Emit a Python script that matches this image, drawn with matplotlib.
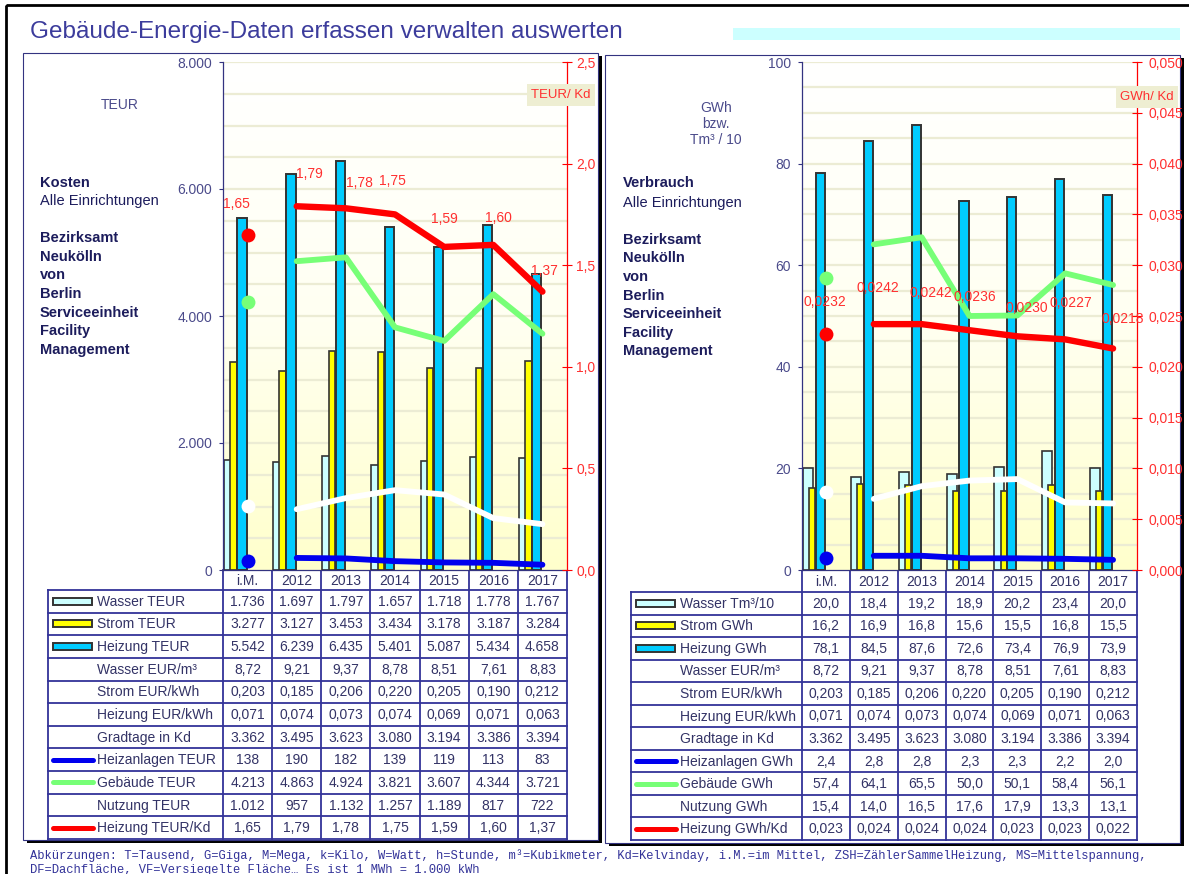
import matplotlib
matplotlib.use('Agg')
import matplotlib.pyplot as plt
import numpy as np
from matplotlib.patches import Rectangle
from matplotlib.colors import LinearSegmentedColormap

plt.rcParams['font.family'] = ['Liberation Sans', 'DejaVu Sans']

W, H = 1189, 874

categories = ['i.M.', '2012', '2013', '2014', '2015', '2016', '2017']

# Kosten in TEUR
wasser_teur = [1736, 1697, 1797, 1657, 1718, 1778, 1767]
strom_teur = [3277, 3127, 3453, 3434, 3178, 3187, 3284]
heizung_teur = [5542, 6239, 6435, 5401, 5087, 5434, 4658]
heizanlagen_teur = [138, 190, 182, 139, 119, 113, 83]
gebaeude_teur = [4213, 4863, 4924, 3821, 3607, 4344, 3721]
nutzung_teur = [1012, 957, 1132, 1257, 1189, 817, 722]
heizung_teur_kd = [1.65, 1.79, 1.78, 1.75, 1.59, 1.60, 1.37]

# Verbrauch in GWh bzw. Tm3/10
wasser_tm3 = [20.0, 18.4, 19.2, 18.9, 20.2, 23.4, 20.0]
strom_gwh = [16.2, 16.9, 16.8, 15.6, 15.5, 16.8, 15.5]
heizung_gwh = [78.1, 84.5, 87.6, 72.6, 73.4, 76.9, 73.9]
heizanlagen_gwh = [2.4, 2.8, 2.8, 2.3, 2.3, 2.2, 2.0]
gebaeude_gwh = [57.4, 64.1, 65.5, 50.0, 50.1, 58.4, 56.1]
nutzung_gwh = [15.4, 14.0, 16.5, 17.6, 17.9, 13.3, 13.1]
heizung_gwh_kd = [0.0232, 0.0242, 0.0242, 0.0236, 0.0230, 0.0227, 0.0218]

# Preise und Gradtage
wasser_eur_m3 = [8.72, 9.21, 9.37, 8.78, 8.51, 7.61, 8.83]
strom_eur_kwh = [0.203, 0.185, 0.206, 0.220, 0.205, 0.190, 0.212]
heizung_eur_kwh = [0.071, 0.074, 0.073, 0.074, 0.069, 0.071, 0.063]
gradtage = [3362, 3495, 3623, 3080, 3194, 3386, 3394]

# colours
C_WASSER = '#CCFFFF'
C_STROM = '#FFFF00'
C_HEIZ = '#00CCFF'
C_BLUE = '#0000EE'
C_GREEN = '#77FF77'
C_RED = '#FF0000'
C_RED_TXT = '#FF3030'
C_GRID = '#ECECD4'
C_AXIS = '#333380'
C_TICK = '#4B4B8B'
C_TABLE = '#333399'
C_CELL = '#333366'
C_SIDE = '#1C1C5C'


def de(v, nd=0):
    """German number format: 1.234,56"""
    s = f"{v:,.{nd}f}"
    return s.replace(',', 'X').replace('.', ',').replace('X', '.')


fig = plt.figure(figsize=(W / 100, H / 100), dpi=100)
bg = fig.add_axes([0, 0, 1, 1])
bg.set_xlim(0, W)
bg.set_ylim(H, 0)
bg.axis('off')


def px_axes(x0, y0, x1, y1):
    return fig.add_axes([x0 / W, 1 - y1 / H, (x1 - x0) / W, (y1 - y0) / H])


# ---------------------------------------------------------------- frame / title
bg.add_patch(Rectangle((6, 5), 1200, 900, fill=False, ec='black', lw=2, zorder=5))
bg.add_patch(Rectangle((733, 28), 447, 12, fc='#CCFFFF', ec='none', zorder=1))
bg.text(30, 38, 'Gebäude-Energie-Daten erfassen verwalten auswerten',
        fontsize=17.5, color='#3C3C9C', va='baseline', ha='left')

for (x0, y0, x1, y1) in [(23, 53, 598, 840), (605, 55, 1180, 843)]:
    bg.add_patch(Rectangle((x0 + 4, y0 + 3), x1 - x0, y1 - y0, fc='black', ec='none', zorder=1))
    bg.add_patch(Rectangle((x0, y0), x1 - x0, y1 - y0, fc='white', ec=C_AXIS, lw=0.8, zorder=2))

foot1 = ('Abkürzungen: T=Tausend, G=Giga, M=Mega, k=Kilo, W=Watt, h=Stunde, m³=Kubikmeter, '
         'Kd=Kelvinday, i.M.=im Mittel, ZSH=ZählerSammelHeizung, MS=Mittelspannung,')
foot2 = 'DF=Dachfläche, VF=Versiegelte Fläche… Es ist 1 MWh = 1.000 kWh'
for y, s in [(856, foot1), (870, foot2)]:
    bg.text(30, y, s, fontsize=8.7, color=C_TABLE, va='center', ha='left',
            family=['Liberation Mono', 'DejaVu Sans Mono'])

# side texts
side_lines = ['Bezirksamt', 'Neukölln', 'von', 'Berlin', 'Serviceeinheit', 'Facility', 'Management']
bg.text(120, 105, 'TEUR', fontsize=10, color=C_TICK, ha='center', va='center')
bg.text(40, 183, 'Kosten', fontsize=10.5, fontweight='bold', color=C_SIDE, va='center')
bg.text(40, 201, 'Alle Einrichtungen', fontsize=10.5, color=C_SIDE, va='center')
for i, s in enumerate(side_lines):
    bg.text(40, 238 + i * 18.7, s, fontsize=10.5, fontweight='bold', color=C_SIDE, va='center')

for y, s in [(108, 'GWh'), (124, 'bzw.'), (140, 'Tm³ / 10')]:
    bg.text(716, y, s, fontsize=10, color=C_TICK, ha='center', va='center')
bg.text(623, 183, 'Verbrauch', fontsize=10.5, fontweight='bold', color=C_SIDE, va='center')
bg.text(623, 203, 'Alle Einrichtungen', fontsize=10.5, color=C_SIDE, va='center')
for i, s in enumerate(side_lines):
    bg.text(623, 240 + i * 18.5, s, fontsize=10.5, fontweight='bold', color=C_SIDE, va='center')

bg_cmap = LinearSegmentedColormap.from_list('plotbg', ['#FFFFCC', '#FFFFF2', '#FFFFFF'])


def draw_chart(rect, ymax, grid_step, yticks, yfmt, y2ticks, y2fmt, y2pad,
               wasser, strom, heizung, anlagen, gebaeude, nutzung, red, red_fmt, offsets):
    ax = px_axes(*rect)
    x = np.arange(len(categories))
    grad = np.linspace(0, 1, 256).reshape(-1, 1)
    ax.imshow(grad, extent=[-0.5, 6.5, 0, ymax], origin='lower', aspect='auto',
              cmap=bg_cmap, zorder=0)
    for g in np.arange(grid_step, ymax + grid_step / 2, grid_step):
        ax.axhline(g, color=C_GRID, lw=1.6, zorder=0.5)

    ax.bar(x - 0.5 + 0.02, wasser, width=0.21, align='edge', color=C_WASSER,
           edgecolor='#333333', lw=1.2, zorder=2)
    ax.bar(x - 0.5 + 0.148, strom, width=0.13, align='edge', color=C_STROM,
           edgecolor='#333333', lw=1.2, zorder=2.1)
    ax.bar(x - 0.5 + 0.29, heizung, width=0.19, align='edge', color=C_HEIZ,
           edgecolor='#333333', lw=1.4, zorder=2.2)

    for vals, col in [(anlagen, C_BLUE), (nutzung, 'white'), (gebaeude, C_GREEN)]:
        ax.plot(x[1:], vals[1:], color=col, lw=4.2, solid_capstyle='round',
                solid_joinstyle='round', zorder=4)
        ax.plot(x[0], vals[0], 'o', color=col, ms=10, mew=0, zorder=4)

    ax.set_xlim(-0.5, 6.5)
    ax.set_ylim(0, ymax)
    ax.set_xticks([])
    ax.set_yticks(yticks)
    ax.set_yticklabels([yfmt(v) for v in yticks])
    ax.tick_params(axis='y', direction='out', length=3, width=0.8, color=C_AXIS,
                   labelcolor=C_TICK, labelsize=10, pad=5)
    for s in ['top', 'right']:
        ax.spines[s].set_visible(False)
    for s in ['left', 'bottom']:
        ax.spines[s].set_color(C_AXIS)
        ax.spines[s].set_linewidth(0.9)

    ax2 = ax.twinx()
    ax2.set_ylim(y2ticks[0], y2ticks[-1])
    ax2.plot(x[1:], red[1:], color=C_RED, lw=4.6, solid_capstyle='round',
             solid_joinstyle='round', zorder=5)
    ax2.plot(x[0], red[0], 'o', color=C_RED, ms=10, mew=0, zorder=5)
    for xi, v, off in zip(x, red, offsets):
        ax2.annotate(red_fmt(v), (xi, v), xytext=off, textcoords='offset pixels',
                     ha='center', va='center', color=C_RED_TXT, fontsize=10, zorder=6)
    ax2.set_yticks(y2ticks)
    ax2.set_yticklabels([y2fmt(v) for v in y2ticks])
    ax2.tick_params(axis='y', direction='inout', length=7, width=0.8, color=C_RED,
                    labelcolor=C_RED_TXT, labelsize=10, pad=y2pad)
    for s in ['top', 'left', 'bottom']:
        ax2.spines[s].set_visible(False)
    ax2.spines['right'].set_color(C_RED)
    ax2.spines['right'].set_linewidth(0.9)
    return ax, ax2


def draw_table(x_lab, x0, x1, y_head, y_top, y_bot, rows):
    ncol = len(categories)
    cw = (x1 - x0) / ncol
    rh = (y_bot - y_top) / len(rows)
    lw = 1.3
    # header row
    for j in range(ncol + 1):
        bg.plot([x0 + j * cw] * 2, [y_head, y_bot], color=C_TABLE, lw=lw, zorder=3)
    for j, c in enumerate(categories):
        bg.text(x0 + (j + 0.5) * cw, (y_head + y_top) / 2 + 1, c, ha='center', va='center',
                fontsize=10, color=C_CELL, zorder=4)
    bg.plot([x_lab, x_lab], [y_top, y_bot], color=C_TABLE, lw=lw, zorder=3)
    for r in range(len(rows) + 1):
        y = y_top + r * rh
        bg.plot([x_lab, x1], [y, y], color=C_TABLE, lw=lw, zorder=3)
    for r, (label, swatch, vals) in enumerate(rows):
        yc = y_top + (r + 0.5) * rh
        if swatch is not None:
            kind, col = swatch
            if kind == 'bar':
                bg.add_patch(Rectangle((x_lab + 5, yc - 3.5), 39, 7, fc=col, ec='#333333',
                                       lw=1.4, zorder=4))
            else:
                bg.plot([x_lab + 5, x_lab + 45], [yc, yc], color=col, lw=3.6,
                        solid_capstyle='round', zorder=4)
        bg.text(x_lab + 49, yc + 0.5, label, ha='left', va='center', fontsize=10,
                color=C_CELL, zorder=4)
        for j, s in enumerate(vals):
            bg.text(x0 + (j + 0.5) * cw, yc + 0.5, s, ha='center', va='center', fontsize=10,
                    color=C_CELL, zorder=4)


# ---------------------------------------------------------------- Kosten
draw_chart((223, 62, 567, 570), 8000, 500, [0, 2000, 4000, 6000, 8000],
           lambda v: de(v), [0, 0.5, 1.0, 1.5, 2.0, 2.5], lambda v: de(v, 1), 3,
           wasser_teur, strom_teur, heizung_teur, heizanlagen_teur, gebaeude_teur,
           nutzung_teur, heizung_teur_kd, lambda v: de(v, 2),
           [(-11, 31), (13, 32), (14, 25), (-3, 33), (0, 28), (5, 27), (2, 21)])

rows_kosten = [
    ('Wasser TEUR', ('bar', C_WASSER), [de(v) for v in wasser_teur]),
    ('Strom TEUR', ('bar', C_STROM), [de(v) for v in strom_teur]),
    ('Heizung TEUR', ('bar', C_HEIZ), [de(v) for v in heizung_teur]),
    ('Wasser EUR/m³', None, [de(v, 2) for v in wasser_eur_m3]),
    ('Strom EUR/kWh', None, [de(v, 3) for v in strom_eur_kwh]),
    ('Heizung EUR/kWh', None, [de(v, 3) for v in heizung_eur_kwh]),
    ('Gradtage in Kd', None, [de(v) for v in gradtage]),
    ('Heizanlagen TEUR', ('line', C_BLUE), [de(v) for v in heizanlagen_teur]),
    ('Gebäude TEUR', ('line', C_GREEN), [de(v) for v in gebaeude_teur]),
    ('Nutzung TEUR', None, [de(v) for v in nutzung_teur]),
    ('Heizung TEUR/Kd', ('line', C_RED), [de(v, 2) for v in heizung_teur_kd]),
]
draw_table(48, 223, 567, 570, 590, 839, rows_kosten)

# ---------------------------------------------------------------- Verbrauch
draw_chart((802, 62, 1137, 570), 100, 5, [0, 20, 40, 60, 80, 100],
           lambda v: de(v), list(np.round(np.arange(0, 0.0501, 0.005), 3)),
           lambda v: de(v, 3), 5,
           wasser_tm3, strom_gwh, heizung_gwh, heizanlagen_gwh, gebaeude_gwh,
           nutzung_gwh, heizung_gwh_kd, lambda v: de(v, 4),
           [(-1, 32), (4, 36), (9, 31), (5, 33), (9, 28), (6, 36), (10, 30)])

rows_verbrauch = [
    ('Wasser Tm³/10', ('bar', C_WASSER), [de(v, 1) for v in wasser_tm3]),
    ('Strom GWh', ('bar', C_STROM), [de(v, 1) for v in strom_gwh]),
    ('Heizung GWh', ('bar', C_HEIZ), [de(v, 1) for v in heizung_gwh]),
    ('Wasser EUR/m³', None, [de(v, 2) for v in wasser_eur_m3]),
    ('Strom EUR/kWh', None, [de(v, 3) for v in strom_eur_kwh]),
    ('Heizung EUR/kWh', None, [de(v, 3) for v in heizung_eur_kwh]),
    ('Gradtage in Kd', None, [de(v) for v in gradtage]),
    ('Heizanlagen GWh', ('line', C_BLUE), [de(v, 1) for v in heizanlagen_gwh]),
    ('Gebäude GWh', ('line', C_GREEN), [de(v, 1) for v in gebaeude_gwh]),
    ('Nutzung GWh', None, [de(v, 1) for v in nutzung_gwh]),
    ('Heizung GWh/Kd', ('line', C_RED), [de(v, 3) for v in heizung_gwh_kd]),
]
draw_table(631, 802, 1137, 571, 592, 840, rows_verbrauch)

# unit boxes next to the red axes
for xc, yc, s in [(561, 95, 'TEUR/ Kd'), (1147, 97, 'GWh/ Kd')]:
    fig.text(xc / W, 1 - yc / H, s, ha='center', va='center', fontsize=9.5, color=C_RED_TXT,
             zorder=10, bbox=dict(boxstyle='square,pad=0.35', fc='#EEEED2', ec='none'))

fig.savefig('out.png', dpi=100, facecolor='white')
